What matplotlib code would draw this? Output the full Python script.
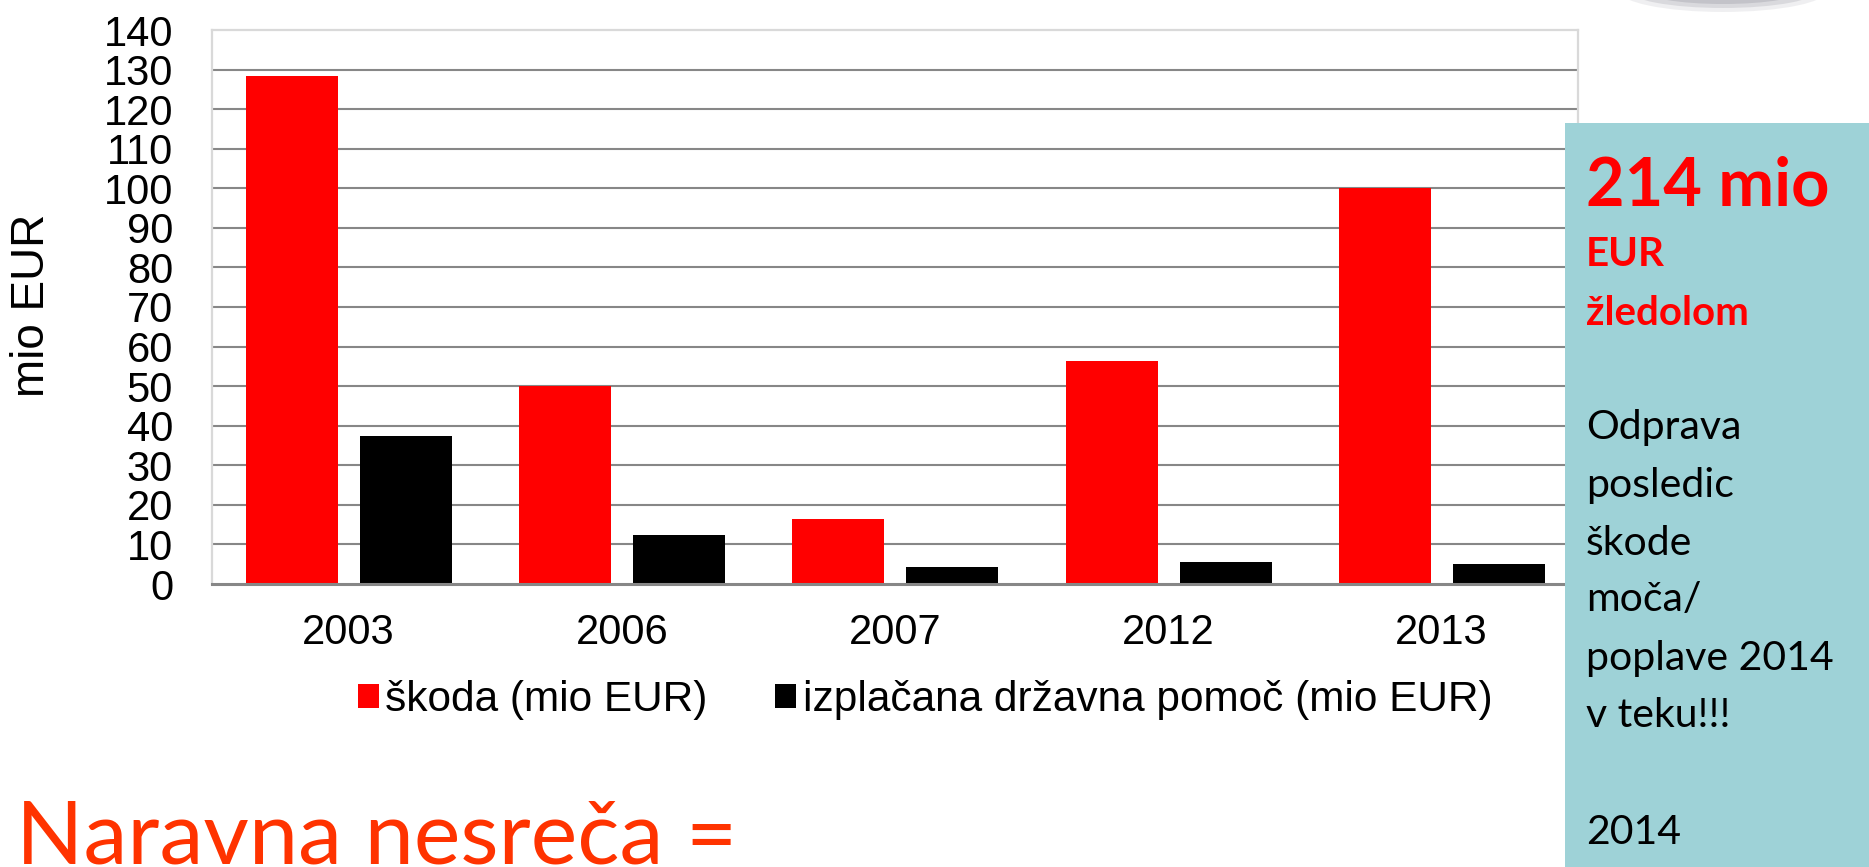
import matplotlib
matplotlib.use('Agg')
import matplotlib.pyplot as plt
from matplotlib.patches import Rectangle, Ellipse
import numpy as np

# podatki
years = ['2003', '2006', '2007', '2012', '2013']
skoda = [128.5, 50.0, 16.5, 56.4, 100.0]          # škoda (mio EUR)
pomoc = [37.4, 12.4, 4.4, 5.6, 5.1]               # izplačana državna pomoč (mio EUR)
yticks = list(range(0, 141, 10))

box_red = [('214 mio', 48, 205), ('EUR', 29, 266), ('žledolom', 29, 325)]
box_black = [('Odprava', 439), ('posledic', 497), ('škode', 555), ('moča/', 611),
             ('poplave 2014', 670), ('v teku!!!', 727), ('2014', 844)]

W, H = 1869, 867
fig = plt.figure(figsize=(W / 100, H / 100), dpi=100)
plt.rcParams['font.family'] = ['Liberation Sans', 'DejaVu Sans']


def fx(px):
    return px / W


def fy(py):
    return 1 - py / H


ax = fig.add_axes([fx(212), fy(584), fx(1578) - fx(212), fy(30) - fy(584)])
x = np.arange(len(years))
ax.bar(x - 0.207, skoda, 0.337, color='#FF0000', label='škoda (mio EUR)', zorder=3)
ax.bar(x + 0.21, pomoc, 0.337, color='#000000', label='izplačana državna pomoč (mio EUR)', zorder=3)
ax.set_xlim(-0.5, 4.5)
ax.set_ylim(0, 140)
ax.set_yticks(yticks)
ax.set_xticks(x)
ax.set_xticklabels(years)
for v in yticks[1:-1]:
    ax.axhline(v, color='#878787', lw=1.5, zorder=1)
ax.axhline(0, color='#878787', lw=2.2, zorder=4, clip_on=False)
for s in ['top', 'left', 'right']:
    ax.spines[s].set_color('#d9d9d9')
    ax.spines[s].set_linewidth(1.6)
ax.spines['bottom'].set_visible(False)
ax.tick_params(axis='both', length=0, labelsize=30)
ax.tick_params(axis='y', pad=28)
ax.tick_params(axis='x', pad=21)

fig.text(fx(32), fy(305), 'mio EUR', rotation=90, ha='center', va='center', fontsize=33)

fig.legend(loc='center', bbox_to_anchor=(fx(925), fy(700)), ncol=2, frameon=False,
           fontsize=30.5, handlelength=0.5, handleheight=0.5, handletextpad=0.15,
           columnspacing=1.6, borderpad=0, borderaxespad=0)

# modra škatla desno
fig.patches.append(Rectangle((fx(1565), 0), 1 - fx(1565), fy(123), transform=fig.transFigure,
                             facecolor='#9ED2D7', edgecolor='none', zorder=5))
# senca zgoraj desno (mehka)
for w, h, a in [(210, 44, 0.15), (190, 36, 0.25), (160, 28, 0.35)]:
    fig.patches.append(Ellipse((fx(1723), fy(-10)), fx(w), h / H, transform=fig.transFigure,
                               facecolor='#9a9aa4', edgecolor='none', alpha=a, zorder=5))

for txt, size, base in box_red:
    fig.text(fx(1586), fy(base), txt, color='#FF0000', fontsize=size, fontweight='bold',
             family=['Lato', 'DejaVu Sans'], va='baseline', ha='left', zorder=6)
for txt, base in box_black:
    fig.text(fx(1586), fy(base), txt, color='black', fontsize=29.5,
             family=['Lato', 'DejaVu Sans'], va='baseline', ha='left', zorder=6)

fig.text(fx(16), fy(864), 'Naravna nesreča =', color='#FF3300', fontsize=63.5,
         family=['Lato', 'DejaVu Sans'], va='baseline', ha='left')

fig.savefig('out.png', dpi=100)
